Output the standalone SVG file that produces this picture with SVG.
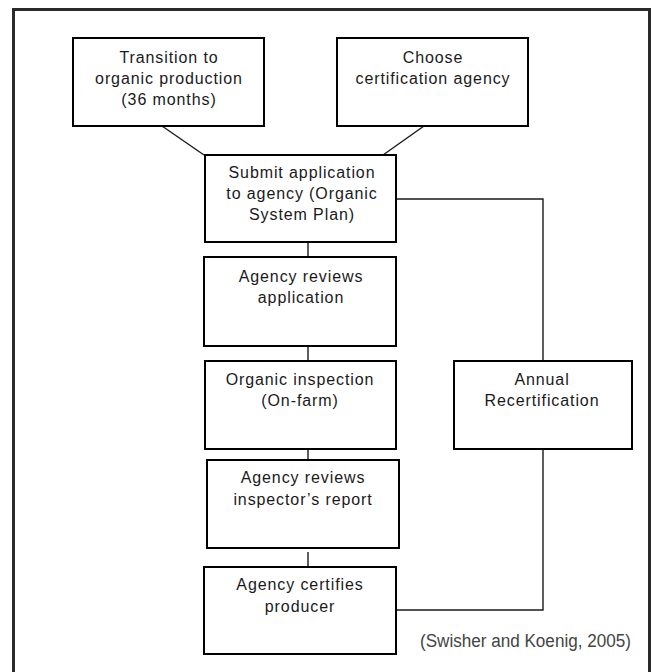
<svg xmlns="http://www.w3.org/2000/svg" width="652" height="672" viewBox="0 0 652 672">
<style>
.frame{fill:#fff;stroke:#2a2a2a;stroke-width:3}
.box{fill:#fff;stroke:#000;stroke-width:2}
.conn{fill:none;stroke:#1a1a1a;stroke-width:1.4}
.t{font-family:"Liberation Sans",Arial,sans-serif;font-size:16px;letter-spacing:0.9px;fill:#1a1a1a;text-anchor:middle}
.cite{font-family:"Liberation Sans",Arial,sans-serif;font-size:19px;fill:#444}
</style>
<rect class="frame" x="13.5" y="9.5" width="636" height="700"/>
<g id="connectors">
<line class="conn" x1="162" y1="126" x2="204" y2="155"/>
<line class="conn" x1="424" y1="126" x2="383" y2="155"/>
<line class="conn" x1="308" y1="242" x2="308" y2="257"/>
<line class="conn" x1="308" y1="346" x2="308" y2="361"/>
<line class="conn" x1="308" y1="449" x2="308" y2="461"/>
<line class="conn" x1="308" y1="552" x2="308" y2="567"/>
<polyline class="conn" points="396,199 543,199 543,361"/>
<polyline class="conn" points="543,449 543,610 396,610"/>
</g>
<g id="transition">
<rect class="box" x="73" y="38" width="191" height="88"/>
<text class="t" x="169" y="63">Transition to</text>
<text class="t" x="169" y="84">organic production</text>
<text class="t" x="169" y="105">(36 months)</text>
</g>
<g id="choose">
<rect class="box" x="337" y="38" width="191" height="88"/>
<text class="t" x="433" y="63">Choose</text>
<text class="t" x="433" y="84">certification agency</text>
</g>
<g id="submit">
<rect class="box" x="205" y="155" width="191" height="87"/>
<text class="t" x="302" y="178">Submit application</text>
<text class="t" x="302" y="199">to agency (Organic</text>
<text class="t" x="302" y="220">System Plan)</text>
</g>
<g id="reviews-application">
<rect class="box" x="204" y="257" width="192" height="89"/>
<text class="t" x="301" y="282">Agency reviews</text>
<text class="t" x="301" y="303">application</text>
</g>
<g id="inspection">
<rect class="box" x="205" y="361" width="191" height="88"/>
<text class="t" x="300" y="385">Organic inspection</text>
<text class="t" x="300" y="406">(On-farm)</text>
</g>
<g id="reviews-report">
<rect class="box" x="207" y="460" width="192" height="88"/>
<text class="t" x="303" y="483">Agency reviews</text>
<text class="t" x="303" y="505">inspector’s report</text>
</g>
<g id="certifies">
<rect class="box" x="204" y="567" width="192" height="87"/>
<text class="t" x="300" y="590">Agency certifies</text>
<text class="t" x="300" y="612">producer</text>
</g>
<g id="annual">
<rect class="box" x="454" y="361" width="178" height="88"/>
<text class="t" x="542" y="385">Annual</text>
<text class="t" x="542" y="406">Recertification</text>
</g>
<text class="cite" transform="translate(420,647) scale(0.9,1)" x="0" y="0">(Swisher and Koenig, 2005)</text>
</svg>
